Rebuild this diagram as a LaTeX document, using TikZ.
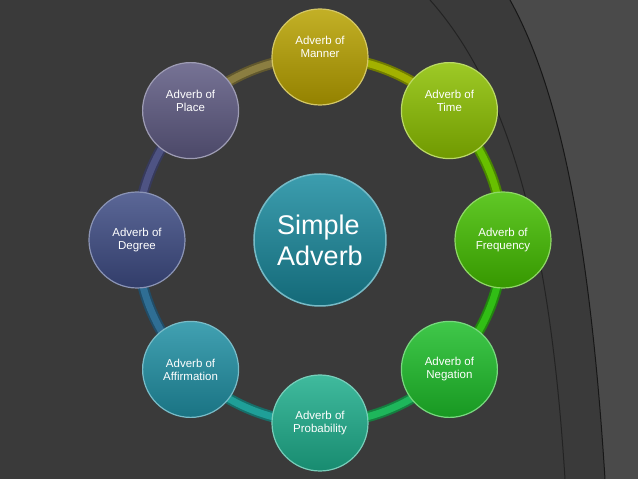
\documentclass[tikz,border=0pt]{standalone}
\usepackage{fontspec}
\setmainfont{Liberation Sans}
\definecolor{bg}{HTML}{3A3A3A}
\definecolor{c0}{HTML}{B8A200}
\definecolor{c1}{HTML}{8CC000}
\definecolor{c2}{HTML}{44BE00}
\definecolor{c3}{HTML}{1EBE2A}
\definecolor{c4}{HTML}{1EAE8C}
\definecolor{c5}{HTML}{2090A4}
\definecolor{c6}{HTML}{3E4C84}
\definecolor{c7}{HTML}{5E5A82}
\definecolor{cc}{HTML}{1A8CA0}
\tikzset{
 outer/.style={circle,minimum size=96pt,inner sep=0pt,draw=#1!60!white,line width=1.2pt,
   top color=#1!85!white,bottom color=#1!80!black,text=white,font=\fontsize{11.5pt}{13pt}\selectfont,align=center},
 ring/.style={line width=11pt,draw=#1!70!black},
 ringin/.style={line width=7pt,draw=#1}
}
\begin{document}
\begin{tikzpicture}[x=1pt,y=1pt]
\fill[bg] (-320,-239) rectangle (318,240);
\useasboundingbox (-320,-239) rectangle (318,240);
\fill[bg!92!white] (190,240) .. controls (240,150) and (270,0) .. (285,-239) -- (318,-239) -- (318,240) -- cycle;
\draw[black!60!bg,line width=1pt] (190,240) .. controls (240,150) and (270,0) .. (285,-239);
\draw[black!40!bg,line width=1pt] (110,240) .. controls (190,150) and (230,0) .. (245,-239);
\foreach \i/\a/\b in {0/c0/c1,1/c1/c2,2/c2/c3,3/c3/c4,4/c4/c5,5/c5/c6,6/c6/c7,7/c7/c0}{
 \pgfmathsetmacro\st{90-45*\i}
 \draw[ring={\a!50!\b}] (\st:183) arc[start angle=\st,delta angle=-45,radius=183];
 \draw[ringin={\a!50!\b}] (\st:183) arc[start angle=\st,delta angle=-45,radius=183];
}
\node[outer=c0,text depth=20pt] (m) at (90:183) {Adverb of\\Manner};
\node[outer=c1,text depth=20pt] (t) at (45:183) {Adverb of\\Time};
\node[outer=c2] (f) at (0:183) {Adverb of\\Frequency};
\node[outer=c3] (n) at (-45:183) {Adverb of\\Negation};
\node[outer=c4] (p) at (-90:183) {Adverb of\\Probability};
\node[outer=c5] (a) at (-135:183) {Adverb of\\Affirmation};
\node[outer=c6] (d) at (180:183) {Adverb of\\Degree};
\node[outer=c7,text depth=20pt] (pl) at (135:183) {Adverb of\\Place};
\node[circle,minimum size=132pt,inner sep=0pt,draw=cc!60!white,line width=1.5pt,top color=cc!85!white,bottom color=cc!75!black,text=white,align=left,font=\fontsize{27pt}{31pt}\selectfont] (c) at (0,0) {Simple\\Adverb};
\end{tikzpicture}
\end{document}
